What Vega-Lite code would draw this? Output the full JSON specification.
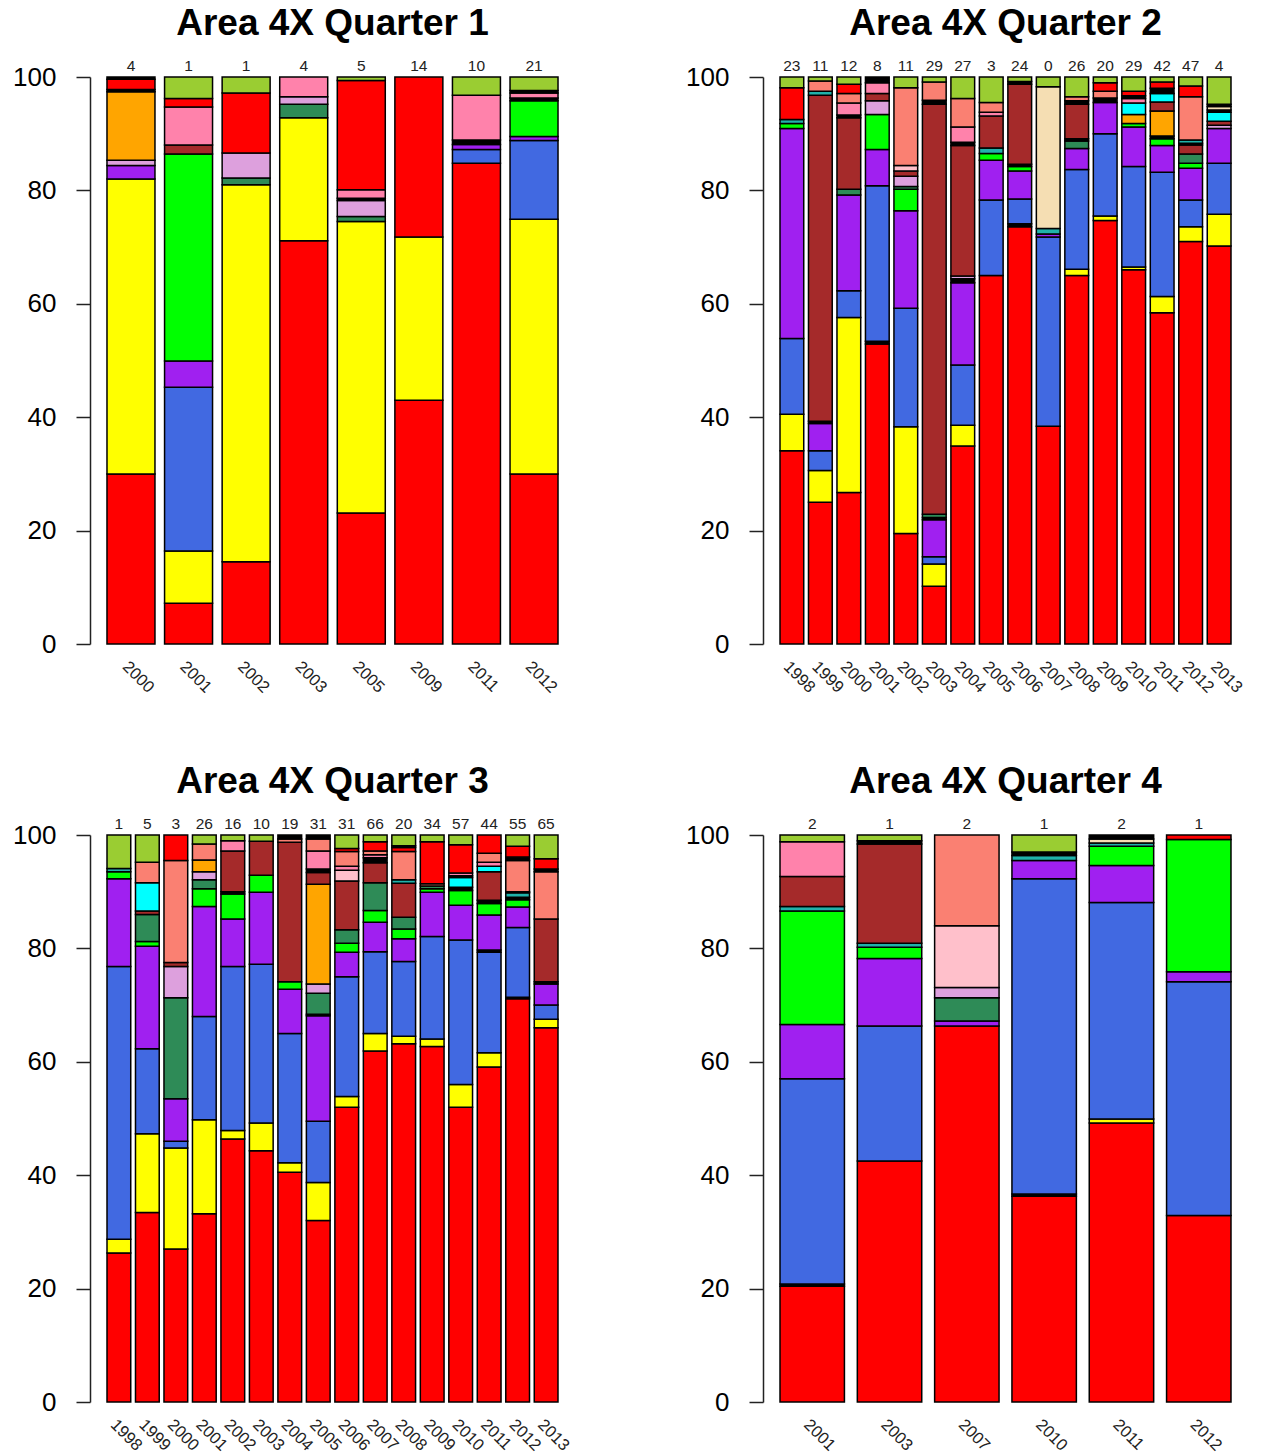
{
"$schema":"https://vega.github.io/schema/vega-lite/v6.json",
"background":"white",
"padding":{"left":12,"top":5,"right":5,"bottom":0},
"columns":2,
"spacing":{"row":67,"column":110},
"datasets":{
"segs":[
{"q":1,"year":"2000","k":1,"sp":"s01","pct":30},{"q":1,"year":"2000","k":2,"sp":"s02","pct":52},{"q":1,"year":"2000","k":3,"sp":"s04","pct":2.4},{"q":1,"year":"2000","k":4,"sp":"s11","pct":0.9},{"q":1,"year":"2000","k":5,"sp":"s10","pct":12.1},{"q":1,"year":"2000","k":6,"sp":"s16","pct":0.4},{"q":1,"year":"2000","k":7,"sp":"s18","pct":1.8},{"q":1,"year":"2000","k":8,"sp":"s16","pct":0.4},
{"q":1,"year":"2001","k":1,"sp":"s01","pct":7.2},{"q":1,"year":"2001","k":2,"sp":"s02","pct":9.2},{"q":1,"year":"2001","k":3,"sp":"s03","pct":28.9},{"q":1,"year":"2001","k":4,"sp":"s04","pct":4.6},{"q":1,"year":"2001","k":5,"sp":"s05","pct":36.5},{"q":1,"year":"2001","k":6,"sp":"s07","pct":1.6},{"q":1,"year":"2001","k":7,"sp":"s12","pct":6.7},{"q":1,"year":"2001","k":8,"sp":"s18","pct":1.5},{"q":1,"year":"2001","k":9,"sp":"s17","pct":3.8},
{"q":1,"year":"2002","k":1,"sp":"s01","pct":14.5},{"q":1,"year":"2002","k":2,"sp":"s02","pct":66.5},{"q":1,"year":"2002","k":3,"sp":"s06","pct":1.2},{"q":1,"year":"2002","k":4,"sp":"s11","pct":4.4},{"q":1,"year":"2002","k":5,"sp":"s18","pct":10.6},{"q":1,"year":"2002","k":6,"sp":"s17","pct":2.8},
{"q":1,"year":"2003","k":1,"sp":"s01","pct":71.1},{"q":1,"year":"2003","k":2,"sp":"s02","pct":21.7},{"q":1,"year":"2003","k":3,"sp":"s06","pct":2.4},{"q":1,"year":"2003","k":4,"sp":"s11","pct":1.3},{"q":1,"year":"2003","k":5,"sp":"s12","pct":3.5},
{"q":1,"year":"2005","k":1,"sp":"s01","pct":23.1},{"q":1,"year":"2005","k":2,"sp":"s02","pct":51.4},{"q":1,"year":"2005","k":3,"sp":"s06","pct":0.9},{"q":1,"year":"2005","k":4,"sp":"s11","pct":2.8},{"q":1,"year":"2005","k":5,"sp":"s16","pct":0.4},{"q":1,"year":"2005","k":6,"sp":"s12","pct":1.5},{"q":1,"year":"2005","k":7,"sp":"s18","pct":19.3},{"q":1,"year":"2005","k":8,"sp":"s17","pct":0.6},
{"q":1,"year":"2009","k":1,"sp":"s01","pct":43},{"q":1,"year":"2009","k":2,"sp":"s02","pct":28.8},{"q":1,"year":"2009","k":3,"sp":"s18","pct":28.2},
{"q":1,"year":"2011","k":1,"sp":"s01","pct":84.8},{"q":1,"year":"2011","k":2,"sp":"s03","pct":2.4},{"q":1,"year":"2011","k":3,"sp":"s04","pct":0.9},{"q":1,"year":"2011","k":4,"sp":"s16","pct":0.8},{"q":1,"year":"2011","k":5,"sp":"s12","pct":7.9},{"q":1,"year":"2011","k":6,"sp":"s17","pct":3.2},
{"q":1,"year":"2012","k":1,"sp":"s01","pct":30},{"q":1,"year":"2012","k":2,"sp":"s02","pct":44.9},{"q":1,"year":"2012","k":3,"sp":"s03","pct":13.9},{"q":1,"year":"2012","k":4,"sp":"s04","pct":0.7},{"q":1,"year":"2012","k":5,"sp":"s05","pct":6.3},{"q":1,"year":"2012","k":6,"sp":"s16","pct":0.5},{"q":1,"year":"2012","k":7,"sp":"s12","pct":0.9},{"q":1,"year":"2012","k":8,"sp":"s16","pct":0.4},{"q":1,"year":"2012","k":9,"sp":"s17","pct":2.4},

{"q":2,"year":"1998","k":1,"sp":"s01","pct":34.1},{"q":2,"year":"1998","k":2,"sp":"s02","pct":6.4},{"q":2,"year":"1998","k":3,"sp":"s03","pct":13.4},{"q":2,"year":"1998","k":4,"sp":"s04","pct":37.0},{"q":2,"year":"1998","k":5,"sp":"s05","pct":0.9},{"q":2,"year":"1998","k":6,"sp":"s08","pct":0.7},{"q":2,"year":"1998","k":7,"sp":"s18","pct":5.6},{"q":2,"year":"1998","k":8,"sp":"s17","pct":1.9},
{"q":2,"year":"1999","k":1,"sp":"s01","pct":25},{"q":2,"year":"1999","k":2,"sp":"s02","pct":5.6},{"q":2,"year":"1999","k":3,"sp":"s03","pct":3.5},{"q":2,"year":"1999","k":4,"sp":"s04","pct":4.8},{"q":2,"year":"1999","k":5,"sp":"s16","pct":0.4},{"q":2,"year":"1999","k":6,"sp":"s07","pct":57.5},{"q":2,"year":"1999","k":7,"sp":"s08","pct":0.7},{"q":2,"year":"1999","k":8,"sp":"s13","pct":1.8},{"q":2,"year":"1999","k":9,"sp":"s17","pct":0.7},
{"q":2,"year":"2000","k":1,"sp":"s01","pct":26.7},{"q":2,"year":"2000","k":2,"sp":"s02","pct":30.9},{"q":2,"year":"2000","k":3,"sp":"s03","pct":4.7},{"q":2,"year":"2000","k":4,"sp":"s04","pct":16.9},{"q":2,"year":"2000","k":5,"sp":"s06","pct":1.0},{"q":2,"year":"2000","k":6,"sp":"s07","pct":12.6},{"q":2,"year":"2000","k":7,"sp":"s16","pct":0.5},{"q":2,"year":"2000","k":8,"sp":"s12","pct":2.1},{"q":2,"year":"2000","k":9,"sp":"s13","pct":1.7},{"q":2,"year":"2000","k":10,"sp":"s18","pct":1.6},{"q":2,"year":"2000","k":11,"sp":"s17","pct":1.3},
{"q":2,"year":"2001","k":1,"sp":"s01","pct":52.9},{"q":2,"year":"2001","k":2,"sp":"s16","pct":0.5},{"q":2,"year":"2001","k":3,"sp":"s03","pct":27.4},{"q":2,"year":"2001","k":4,"sp":"s04","pct":6.4},{"q":2,"year":"2001","k":5,"sp":"s05","pct":6.2},{"q":2,"year":"2001","k":6,"sp":"s11","pct":2.4},{"q":2,"year":"2001","k":7,"sp":"s07","pct":1.3},{"q":2,"year":"2001","k":8,"sp":"s12","pct":1.9},{"q":2,"year":"2001","k":9,"sp":"s16","pct":1.0},
{"q":2,"year":"2002","k":1,"sp":"s01","pct":19.5},{"q":2,"year":"2002","k":2,"sp":"s02","pct":18.8},{"q":2,"year":"2002","k":3,"sp":"s03","pct":20.9},{"q":2,"year":"2002","k":4,"sp":"s04","pct":17.2},{"q":2,"year":"2002","k":5,"sp":"s05","pct":3.8},{"q":2,"year":"2002","k":6,"sp":"s06","pct":0.5},{"q":2,"year":"2002","k":7,"sp":"s11","pct":1.8},{"q":2,"year":"2002","k":8,"sp":"s07","pct":0.9},{"q":2,"year":"2002","k":9,"sp":"s14","pct":1.0},{"q":2,"year":"2002","k":10,"sp":"s13","pct":13.7},{"q":2,"year":"2002","k":11,"sp":"s17","pct":1.9},
{"q":2,"year":"2003","k":1,"sp":"s01","pct":10.2},{"q":2,"year":"2003","k":2,"sp":"s02","pct":3.9},{"q":2,"year":"2003","k":3,"sp":"s03","pct":1.3},{"q":2,"year":"2003","k":4,"sp":"s04","pct":6.5},{"q":2,"year":"2003","k":5,"sp":"s16","pct":0.4},{"q":2,"year":"2003","k":6,"sp":"s06","pct":0.6},{"q":2,"year":"2003","k":7,"sp":"s07","pct":72.3},{"q":2,"year":"2003","k":8,"sp":"s16","pct":0.7},{"q":2,"year":"2003","k":9,"sp":"s13","pct":3.2},{"q":2,"year":"2003","k":10,"sp":"s17","pct":0.9},
{"q":2,"year":"2004","k":1,"sp":"s01","pct":34.9},{"q":2,"year":"2004","k":2,"sp":"s02","pct":3.7},{"q":2,"year":"2004","k":3,"sp":"s03","pct":10.6},{"q":2,"year":"2004","k":4,"sp":"s04","pct":14.5},{"q":2,"year":"2004","k":5,"sp":"s16","pct":0.7},{"q":2,"year":"2004","k":6,"sp":"s11","pct":0.5},{"q":2,"year":"2004","k":7,"sp":"s07","pct":23.0},{"q":2,"year":"2004","k":8,"sp":"s16","pct":0.6},{"q":2,"year":"2004","k":9,"sp":"s12","pct":2.7},{"q":2,"year":"2004","k":10,"sp":"s13","pct":5.0},{"q":2,"year":"2004","k":11,"sp":"s17","pct":3.8},
{"q":2,"year":"2005","k":1,"sp":"s01","pct":65},{"q":2,"year":"2005","k":2,"sp":"s03","pct":13.3},{"q":2,"year":"2005","k":3,"sp":"s04","pct":7.0},{"q":2,"year":"2005","k":4,"sp":"s05","pct":1.2},{"q":2,"year":"2005","k":5,"sp":"s08","pct":1.0},{"q":2,"year":"2005","k":6,"sp":"s07","pct":5.6},{"q":2,"year":"2005","k":7,"sp":"s12","pct":0.7},{"q":2,"year":"2005","k":8,"sp":"s13","pct":1.7},{"q":2,"year":"2005","k":9,"sp":"s17","pct":4.5},
{"q":2,"year":"2006","k":1,"sp":"s01","pct":73.6},{"q":2,"year":"2006","k":2,"sp":"s16","pct":0.5},{"q":2,"year":"2006","k":3,"sp":"s03","pct":4.4},{"q":2,"year":"2006","k":4,"sp":"s04","pct":4.9},{"q":2,"year":"2006","k":5,"sp":"s05","pct":0.8},{"q":2,"year":"2006","k":6,"sp":"s16","pct":0.4},{"q":2,"year":"2006","k":7,"sp":"s07","pct":14.1},{"q":2,"year":"2006","k":8,"sp":"s16","pct":0.5},{"q":2,"year":"2006","k":9,"sp":"s17","pct":0.8},
{"q":2,"year":"2007","k":1,"sp":"s01","pct":38.4},{"q":2,"year":"2007","k":2,"sp":"s03","pct":33.4},{"q":2,"year":"2007","k":3,"sp":"s04","pct":0.5},{"q":2,"year":"2007","k":4,"sp":"s08","pct":1.0},{"q":2,"year":"2007","k":5,"sp":"s15","pct":25.0},{"q":2,"year":"2007","k":6,"sp":"s17","pct":1.7},
{"q":2,"year":"2008","k":1,"sp":"s01","pct":65},{"q":2,"year":"2008","k":2,"sp":"s02","pct":1.1},{"q":2,"year":"2008","k":3,"sp":"s03","pct":17.6},{"q":2,"year":"2008","k":4,"sp":"s04","pct":3.7},{"q":2,"year":"2008","k":5,"sp":"s06","pct":1.3},{"q":2,"year":"2008","k":6,"sp":"s16","pct":0.4},{"q":2,"year":"2008","k":7,"sp":"s07","pct":6.1},{"q":2,"year":"2008","k":8,"sp":"s16","pct":0.6},{"q":2,"year":"2008","k":9,"sp":"s13","pct":0.7},{"q":2,"year":"2008","k":10,"sp":"s17","pct":3.5},
{"q":2,"year":"2009","k":1,"sp":"s01","pct":74.7},{"q":2,"year":"2009","k":2,"sp":"s02","pct":0.8},{"q":2,"year":"2009","k":3,"sp":"s03","pct":14.5},{"q":2,"year":"2009","k":4,"sp":"s04","pct":5.5},{"q":2,"year":"2009","k":5,"sp":"s16","pct":0.8},{"q":2,"year":"2009","k":6,"sp":"s13","pct":1.2},{"q":2,"year":"2009","k":7,"sp":"s18","pct":1.5},{"q":2,"year":"2009","k":8,"sp":"s17","pct":1.0},
{"q":2,"year":"2010","k":1,"sp":"s01","pct":66},{"q":2,"year":"2010","k":2,"sp":"s02","pct":0.5},{"q":2,"year":"2010","k":3,"sp":"s03","pct":17.7},{"q":2,"year":"2010","k":4,"sp":"s04","pct":7.0},{"q":2,"year":"2010","k":5,"sp":"s05","pct":0.6},{"q":2,"year":"2010","k":6,"sp":"s10","pct":1.6},{"q":2,"year":"2010","k":7,"sp":"s09","pct":2.0},{"q":2,"year":"2010","k":8,"sp":"s12","pct":0.8},{"q":2,"year":"2010","k":9,"sp":"s16","pct":0.5},{"q":2,"year":"2010","k":10,"sp":"s18","pct":0.8},{"q":2,"year":"2010","k":11,"sp":"s17","pct":2.5},
{"q":2,"year":"2011","k":1,"sp":"s01","pct":58.4},{"q":2,"year":"2011","k":2,"sp":"s02","pct":2.9},{"q":2,"year":"2011","k":3,"sp":"s03","pct":21.9},{"q":2,"year":"2011","k":4,"sp":"s04","pct":4.7},{"q":2,"year":"2011","k":5,"sp":"s05","pct":1.2},{"q":2,"year":"2011","k":6,"sp":"s16","pct":0.5},{"q":2,"year":"2011","k":7,"sp":"s10","pct":4.4},{"q":2,"year":"2011","k":8,"sp":"s07","pct":1.6},{"q":2,"year":"2011","k":9,"sp":"s09","pct":1.5},{"q":2,"year":"2011","k":10,"sp":"s16","pct":0.9},{"q":2,"year":"2011","k":11,"sp":"s18","pct":1.1},{"q":2,"year":"2011","k":12,"sp":"s17","pct":0.9},
{"q":2,"year":"2012","k":1,"sp":"s01","pct":71},{"q":2,"year":"2012","k":2,"sp":"s02","pct":2.6},{"q":2,"year":"2012","k":3,"sp":"s03","pct":4.7},{"q":2,"year":"2012","k":4,"sp":"s04","pct":5.6},{"q":2,"year":"2012","k":5,"sp":"s05","pct":0.9},{"q":2,"year":"2012","k":6,"sp":"s06","pct":1.6},{"q":2,"year":"2012","k":7,"sp":"s07","pct":1.6},{"q":2,"year":"2012","k":8,"sp":"s16","pct":0.3},{"q":2,"year":"2012","k":9,"sp":"s08","pct":0.6},{"q":2,"year":"2012","k":10,"sp":"s13","pct":7.6},{"q":2,"year":"2012","k":11,"sp":"s18","pct":1.9},{"q":2,"year":"2012","k":12,"sp":"s17","pct":1.6},
{"q":2,"year":"2013","k":1,"sp":"s01","pct":70.2},{"q":2,"year":"2013","k":2,"sp":"s02","pct":5.6},{"q":2,"year":"2013","k":3,"sp":"s03","pct":9.0},{"q":2,"year":"2013","k":4,"sp":"s04","pct":6.1},{"q":2,"year":"2013","k":5,"sp":"s11","pct":0.6},{"q":2,"year":"2013","k":6,"sp":"s07","pct":0.7},{"q":2,"year":"2013","k":7,"sp":"s09","pct":1.6},{"q":2,"year":"2013","k":8,"sp":"s16","pct":0.4},{"q":2,"year":"2013","k":9,"sp":"s15","pct":0.6},{"q":2,"year":"2013","k":10,"sp":"s16","pct":0.4},{"q":2,"year":"2013","k":11,"sp":"s17","pct":4.8},

{"q":3,"year":"1998","k":1,"sp":"s01","pct":26.3},{"q":3,"year":"1998","k":2,"sp":"s02","pct":2.4},{"q":3,"year":"1998","k":3,"sp":"s03","pct":48.1},{"q":3,"year":"1998","k":4,"sp":"s04","pct":15.5},{"q":3,"year":"1998","k":5,"sp":"s05","pct":1.2},{"q":3,"year":"1998","k":6,"sp":"s08","pct":0.6},{"q":3,"year":"1998","k":7,"sp":"s17","pct":5.9},
{"q":3,"year":"1999","k":1,"sp":"s01","pct":33.4},{"q":3,"year":"1999","k":2,"sp":"s02","pct":13.9},{"q":3,"year":"1999","k":3,"sp":"s03","pct":15.0},{"q":3,"year":"1999","k":4,"sp":"s04","pct":18.1},{"q":3,"year":"1999","k":5,"sp":"s05","pct":0.8},{"q":3,"year":"1999","k":6,"sp":"s06","pct":4.8},{"q":3,"year":"1999","k":7,"sp":"s07","pct":0.6},{"q":3,"year":"1999","k":8,"sp":"s09","pct":5.0},{"q":3,"year":"1999","k":9,"sp":"s13","pct":3.6},{"q":3,"year":"1999","k":10,"sp":"s17","pct":4.8},
{"q":3,"year":"2000","k":1,"sp":"s01","pct":27},{"q":3,"year":"2000","k":2,"sp":"s02","pct":17.8},{"q":3,"year":"2000","k":3,"sp":"s03","pct":1.2},{"q":3,"year":"2000","k":4,"sp":"s04","pct":7.5},{"q":3,"year":"2000","k":5,"sp":"s06","pct":17.8},{"q":3,"year":"2000","k":6,"sp":"s11","pct":5.5},{"q":3,"year":"2000","k":7,"sp":"s07","pct":0.7},{"q":3,"year":"2000","k":8,"sp":"s13","pct":18.0},{"q":3,"year":"2000","k":9,"sp":"s18","pct":4.5},
{"q":3,"year":"2001","k":1,"sp":"s01","pct":33.2},{"q":3,"year":"2001","k":2,"sp":"s02","pct":16.6},{"q":3,"year":"2001","k":3,"sp":"s03","pct":18.2},{"q":3,"year":"2001","k":4,"sp":"s04","pct":19.4},{"q":3,"year":"2001","k":5,"sp":"s05","pct":3.1},{"q":3,"year":"2001","k":6,"sp":"s06","pct":1.6},{"q":3,"year":"2001","k":7,"sp":"s11","pct":1.4},{"q":3,"year":"2001","k":8,"sp":"s10","pct":2.1},{"q":3,"year":"2001","k":9,"sp":"s13","pct":2.8},{"q":3,"year":"2001","k":10,"sp":"s17","pct":1.6},
{"q":3,"year":"2002","k":1,"sp":"s01","pct":46.4},{"q":3,"year":"2002","k":2,"sp":"s02","pct":1.5},{"q":3,"year":"2002","k":3,"sp":"s03","pct":28.9},{"q":3,"year":"2002","k":4,"sp":"s04","pct":8.4},{"q":3,"year":"2002","k":5,"sp":"s05","pct":4.4},{"q":3,"year":"2002","k":6,"sp":"s16","pct":0.4},{"q":3,"year":"2002","k":7,"sp":"s07","pct":7.2},{"q":3,"year":"2002","k":8,"sp":"s12","pct":1.8},{"q":3,"year":"2002","k":9,"sp":"s17","pct":1.0},
{"q":3,"year":"2003","k":1,"sp":"s01","pct":44.3},{"q":3,"year":"2003","k":2,"sp":"s02","pct":4.9},{"q":3,"year":"2003","k":3,"sp":"s03","pct":28.0},{"q":3,"year":"2003","k":4,"sp":"s04","pct":12.7},{"q":3,"year":"2003","k":5,"sp":"s05","pct":3.0},{"q":3,"year":"2003","k":6,"sp":"s07","pct":6.0},{"q":3,"year":"2003","k":7,"sp":"s17","pct":1.1},
{"q":3,"year":"2004","k":1,"sp":"s01","pct":40.5},{"q":3,"year":"2004","k":2,"sp":"s02","pct":1.7},{"q":3,"year":"2004","k":3,"sp":"s03","pct":22.8},{"q":3,"year":"2004","k":4,"sp":"s04","pct":7.8},{"q":3,"year":"2004","k":5,"sp":"s05","pct":1.3},{"q":3,"year":"2004","k":6,"sp":"s07","pct":24.6},{"q":3,"year":"2004","k":7,"sp":"s13","pct":0.6},{"q":3,"year":"2004","k":8,"sp":"s16","pct":0.7},
{"q":3,"year":"2005","k":1,"sp":"s01","pct":32},{"q":3,"year":"2005","k":2,"sp":"s02","pct":6.7},{"q":3,"year":"2005","k":3,"sp":"s03","pct":10.8},{"q":3,"year":"2005","k":4,"sp":"s04","pct":18.6},{"q":3,"year":"2005","k":5,"sp":"s16","pct":0.3},{"q":3,"year":"2005","k":6,"sp":"s06","pct":3.7},{"q":3,"year":"2005","k":7,"sp":"s11","pct":1.6},{"q":3,"year":"2005","k":8,"sp":"s10","pct":17.6},{"q":3,"year":"2005","k":9,"sp":"s07","pct":2.1},{"q":3,"year":"2005","k":10,"sp":"s16","pct":0.6},{"q":3,"year":"2005","k":11,"sp":"s12","pct":3.2},{"q":3,"year":"2005","k":12,"sp":"s13","pct":2.1},{"q":3,"year":"2005","k":13,"sp":"s16","pct":0.7},
{"q":3,"year":"2006","k":1,"sp":"s01","pct":52},{"q":3,"year":"2006","k":2,"sp":"s02","pct":1.9},{"q":3,"year":"2006","k":3,"sp":"s03","pct":21.1},{"q":3,"year":"2006","k":4,"sp":"s04","pct":4.3},{"q":3,"year":"2006","k":5,"sp":"s05","pct":1.6},{"q":3,"year":"2006","k":6,"sp":"s06","pct":2.4},{"q":3,"year":"2006","k":7,"sp":"s07","pct":8.6},{"q":3,"year":"2006","k":8,"sp":"s14","pct":1.9},{"q":3,"year":"2006","k":9,"sp":"s12","pct":0.7},{"q":3,"year":"2006","k":10,"sp":"s13","pct":2.6},{"q":3,"year":"2006","k":11,"sp":"s18","pct":0.5},{"q":3,"year":"2006","k":12,"sp":"s17","pct":2.4},
{"q":3,"year":"2007","k":1,"sp":"s01","pct":61.9},{"q":3,"year":"2007","k":2,"sp":"s02","pct":3.1},{"q":3,"year":"2007","k":3,"sp":"s03","pct":14.4},{"q":3,"year":"2007","k":4,"sp":"s04","pct":5.2},{"q":3,"year":"2007","k":5,"sp":"s05","pct":2.1},{"q":3,"year":"2007","k":6,"sp":"s06","pct":4.9},{"q":3,"year":"2007","k":7,"sp":"s07","pct":3.5},{"q":3,"year":"2007","k":8,"sp":"s16","pct":0.9},{"q":3,"year":"2007","k":9,"sp":"s12","pct":0.5},{"q":3,"year":"2007","k":10,"sp":"s13","pct":0.7},{"q":3,"year":"2007","k":11,"sp":"s18","pct":1.6},{"q":3,"year":"2007","k":12,"sp":"s17","pct":1.2},
{"q":3,"year":"2008","k":1,"sp":"s01","pct":63.2},{"q":3,"year":"2008","k":2,"sp":"s02","pct":1.3},{"q":3,"year":"2008","k":3,"sp":"s03","pct":13.2},{"q":3,"year":"2008","k":4,"sp":"s04","pct":4.0},{"q":3,"year":"2008","k":5,"sp":"s05","pct":1.7},{"q":3,"year":"2008","k":6,"sp":"s06","pct":2.1},{"q":3,"year":"2008","k":7,"sp":"s07","pct":6.0},{"q":3,"year":"2008","k":8,"sp":"s08","pct":0.6},{"q":3,"year":"2008","k":9,"sp":"s13","pct":5.0},{"q":3,"year":"2008","k":10,"sp":"s18","pct":0.7},{"q":3,"year":"2008","k":11,"sp":"s16","pct":0.3},{"q":3,"year":"2008","k":12,"sp":"s17","pct":1.9},
{"q":3,"year":"2009","k":1,"sp":"s01","pct":62.7},{"q":3,"year":"2009","k":2,"sp":"s02","pct":1.3},{"q":3,"year":"2009","k":3,"sp":"s03","pct":18.1},{"q":3,"year":"2009","k":4,"sp":"s04","pct":7.8},{"q":3,"year":"2009","k":5,"sp":"s05","pct":0.6},{"q":3,"year":"2009","k":6,"sp":"s06","pct":0.5},{"q":3,"year":"2009","k":7,"sp":"s13","pct":0.4},{"q":3,"year":"2009","k":8,"sp":"s18","pct":7.4},{"q":3,"year":"2009","k":9,"sp":"s17","pct":1.2},
{"q":3,"year":"2010","k":1,"sp":"s01","pct":52},{"q":3,"year":"2010","k":2,"sp":"s02","pct":4.0},{"q":3,"year":"2010","k":3,"sp":"s03","pct":25.5},{"q":3,"year":"2010","k":4,"sp":"s04","pct":6.1},{"q":3,"year":"2010","k":5,"sp":"s05","pct":2.6},{"q":3,"year":"2010","k":6,"sp":"s16","pct":0.6},{"q":3,"year":"2010","k":7,"sp":"s09","pct":1.7},{"q":3,"year":"2010","k":8,"sp":"s16","pct":0.3},{"q":3,"year":"2010","k":9,"sp":"s12","pct":0.5},{"q":3,"year":"2010","k":10,"sp":"s18","pct":5.0},{"q":3,"year":"2010","k":11,"sp":"s17","pct":1.7},
{"q":3,"year":"2011","k":1,"sp":"s01","pct":59.1},{"q":3,"year":"2011","k":2,"sp":"s02","pct":2.5},{"q":3,"year":"2011","k":3,"sp":"s03","pct":17.7},{"q":3,"year":"2011","k":4,"sp":"s16","pct":0.4},{"q":3,"year":"2011","k":5,"sp":"s04","pct":6.2},{"q":3,"year":"2011","k":6,"sp":"s05","pct":2.0},{"q":3,"year":"2011","k":7,"sp":"s16","pct":0.6},{"q":3,"year":"2011","k":8,"sp":"s07","pct":5.0},{"q":3,"year":"2011","k":9,"sp":"s09","pct":1.0},{"q":3,"year":"2011","k":10,"sp":"s12","pct":0.7},{"q":3,"year":"2011","k":11,"sp":"s13","pct":1.6},{"q":3,"year":"2011","k":12,"sp":"s18","pct":3.2},
{"q":3,"year":"2012","k":1,"sp":"s01","pct":71.1},{"q":3,"year":"2012","k":2,"sp":"s16","pct":0.3},{"q":3,"year":"2012","k":3,"sp":"s03","pct":12.3},{"q":3,"year":"2012","k":4,"sp":"s04","pct":3.6},{"q":3,"year":"2012","k":5,"sp":"s05","pct":1.3},{"q":3,"year":"2012","k":6,"sp":"s16","pct":0.4},{"q":3,"year":"2012","k":7,"sp":"s08","pct":0.8},{"q":3,"year":"2012","k":8,"sp":"s16","pct":0.2},{"q":3,"year":"2012","k":9,"sp":"s13","pct":5.5},{"q":3,"year":"2012","k":10,"sp":"s16","pct":0.6},{"q":3,"year":"2012","k":11,"sp":"s18","pct":1.9},{"q":3,"year":"2012","k":12,"sp":"s17","pct":2.0},
{"q":3,"year":"2013","k":1,"sp":"s01","pct":66},{"q":3,"year":"2013","k":2,"sp":"s02","pct":1.5},{"q":3,"year":"2013","k":3,"sp":"s03","pct":2.5},{"q":3,"year":"2013","k":4,"sp":"s04","pct":3.7},{"q":3,"year":"2013","k":5,"sp":"s16","pct":0.4},{"q":3,"year":"2013","k":6,"sp":"s07","pct":11.1},{"q":3,"year":"2013","k":7,"sp":"s13","pct":8.3},{"q":3,"year":"2013","k":8,"sp":"s16","pct":0.5},{"q":3,"year":"2013","k":9,"sp":"s18","pct":1.8},{"q":3,"year":"2013","k":10,"sp":"s17","pct":4.2},

{"q":4,"year":"2001","k":1,"sp":"s01","pct":20.4},{"q":4,"year":"2001","k":2,"sp":"s16","pct":0.4},{"q":4,"year":"2001","k":3,"sp":"s03","pct":36.2},{"q":4,"year":"2001","k":4,"sp":"s04","pct":9.6},{"q":4,"year":"2001","k":5,"sp":"s05","pct":20.0},{"q":4,"year":"2001","k":6,"sp":"s08","pct":0.8},{"q":4,"year":"2001","k":7,"sp":"s07","pct":5.3},{"q":4,"year":"2001","k":8,"sp":"s12","pct":6.1},{"q":4,"year":"2001","k":9,"sp":"s17","pct":1.2},
{"q":4,"year":"2003","k":1,"sp":"s01","pct":42.5},{"q":4,"year":"2003","k":2,"sp":"s03","pct":23.8},{"q":4,"year":"2003","k":3,"sp":"s04","pct":11.9},{"q":4,"year":"2003","k":4,"sp":"s05","pct":2.0},{"q":4,"year":"2003","k":5,"sp":"s08","pct":0.7},{"q":4,"year":"2003","k":6,"sp":"s07","pct":17.5},{"q":4,"year":"2003","k":7,"sp":"s16","pct":0.6},{"q":4,"year":"2003","k":8,"sp":"s17","pct":1.0},
{"q":4,"year":"2007","k":1,"sp":"s01","pct":66.3},{"q":4,"year":"2007","k":2,"sp":"s04","pct":0.9},{"q":4,"year":"2007","k":3,"sp":"s06","pct":4.1},{"q":4,"year":"2007","k":4,"sp":"s11","pct":1.8},{"q":4,"year":"2007","k":5,"sp":"s14","pct":10.9},{"q":4,"year":"2007","k":6,"sp":"s13","pct":16.0},
{"q":4,"year":"2010","k":1,"sp":"s01","pct":36.3},{"q":4,"year":"2010","k":2,"sp":"s16","pct":0.4},{"q":4,"year":"2010","k":3,"sp":"s03","pct":55.6},{"q":4,"year":"2010","k":4,"sp":"s04","pct":3.2},{"q":4,"year":"2010","k":5,"sp":"s08","pct":0.9},{"q":4,"year":"2010","k":6,"sp":"s16","pct":0.6},{"q":4,"year":"2010","k":7,"sp":"s17","pct":3.0},
{"q":4,"year":"2011","k":1,"sp":"s01","pct":49.2},{"q":4,"year":"2011","k":2,"sp":"s02","pct":0.7},{"q":4,"year":"2011","k":3,"sp":"s03","pct":38.2},{"q":4,"year":"2011","k":4,"sp":"s04","pct":6.5},{"q":4,"year":"2011","k":5,"sp":"s05","pct":3.4},{"q":4,"year":"2011","k":6,"sp":"s08","pct":0.6},{"q":4,"year":"2011","k":7,"sp":"s15","pct":0.7},{"q":4,"year":"2011","k":8,"sp":"s16","pct":0.7},
{"q":4,"year":"2012","k":1,"sp":"s01","pct":32.9},{"q":4,"year":"2012","k":2,"sp":"s03","pct":41.2},{"q":4,"year":"2012","k":3,"sp":"s04","pct":1.8},{"q":4,"year":"2012","k":4,"sp":"s05","pct":23.3},{"q":4,"year":"2012","k":5,"sp":"s18","pct":0.8}
],
"counts":[
{"q":1,"year":"2000","n":4},{"q":1,"year":"2001","n":1},{"q":1,"year":"2002","n":1},{"q":1,"year":"2003","n":4},{"q":1,"year":"2005","n":5},{"q":1,"year":"2009","n":14},{"q":1,"year":"2011","n":10},{"q":1,"year":"2012","n":21},
{"q":2,"year":"1998","n":23},{"q":2,"year":"1999","n":11},{"q":2,"year":"2000","n":12},{"q":2,"year":"2001","n":8},{"q":2,"year":"2002","n":11},{"q":2,"year":"2003","n":29},{"q":2,"year":"2004","n":27},{"q":2,"year":"2005","n":3},{"q":2,"year":"2006","n":24},{"q":2,"year":"2007","n":0},{"q":2,"year":"2008","n":26},{"q":2,"year":"2009","n":20},{"q":2,"year":"2010","n":29},{"q":2,"year":"2011","n":42},{"q":2,"year":"2012","n":47},{"q":2,"year":"2013","n":4},
{"q":3,"year":"1998","n":1},{"q":3,"year":"1999","n":5},{"q":3,"year":"2000","n":3},{"q":3,"year":"2001","n":26},{"q":3,"year":"2002","n":16},{"q":3,"year":"2003","n":10},{"q":3,"year":"2004","n":19},{"q":3,"year":"2005","n":31},{"q":3,"year":"2006","n":31},{"q":3,"year":"2007","n":66},{"q":3,"year":"2008","n":20},{"q":3,"year":"2009","n":34},{"q":3,"year":"2010","n":57},{"q":3,"year":"2011","n":44},{"q":3,"year":"2012","n":55},{"q":3,"year":"2013","n":65},
{"q":4,"year":"2001","n":2},{"q":4,"year":"2003","n":1},{"q":4,"year":"2007","n":2},{"q":4,"year":"2010","n":1},{"q":4,"year":"2011","n":2},{"q":4,"year":"2012","n":1}
]
},
"concat":[
{"width":485,"height":567,"title":"Area 4X Quarter 1",
 "layer":[
  {"data":{"name":"segs"},"transform":[{"filter":"datum.q == 1"}],"mark":{"type":"bar","stroke":"black","strokeWidth":1.5},
   "encoding":{"x":{"field":"year","type":"ordinal","scale":{"paddingInner":0.1667,"paddingOuter":0.295},"axis":{"title":null}},
   "y":{"field":"pct","type":"quantitative","stack":"zero","scale":{"domain":[0,100],"nice":false},"axis":{"title":null,"values":[0,20,40,60,80,100]}},
   "color":{"field":"sp","type":"nominal","scale":{"domain":["s01","s02","s03","s04","s05","s06","s07","s08","s09","s10","s11","s12","s13","s14","s15","s16","s17","s18"],"range":["#FF0000","#FFFF00","#4169E1","#A020F0","#00FF00","#2E8B57","#A52A2A","#20B2AA","#00FFFF","#FFA500","#DDA0DD","#FF82AB","#FA8072","#FFC0CB","#F5DEB3","#000000","#9ACD32","#FF0000"]},"legend":null},
   "order":{"field":"k","type":"quantitative"}}},
  {"data":{"name":"counts"},"transform":[{"filter":"datum.q == 1"}],"mark":{"type":"text","baseline":"bottom","dy":-3,"fontSize":15.5,"color":"#222"},
   "encoding":{"x":{"field":"year","type":"ordinal"},"y":{"datum":100},"text":{"field":"n","type":"nominal"}}}
 ]},
{"width":485,"height":567,"title":"Area 4X Quarter 2",
 "layer":[
  {"data":{"name":"segs"},"transform":[{"filter":"datum.q == 2"}],"mark":{"type":"bar","stroke":"black","strokeWidth":1.5},
   "encoding":{"x":{"field":"year","type":"ordinal","scale":{"paddingInner":0.1667,"paddingOuter":0.597},"axis":{"title":null}},
   "y":{"field":"pct","type":"quantitative","stack":"zero","scale":{"domain":[0,100],"nice":false},"axis":{"title":null,"values":[0,20,40,60,80,100]}},
   "color":{"field":"sp","type":"nominal","scale":{"domain":["s01","s02","s03","s04","s05","s06","s07","s08","s09","s10","s11","s12","s13","s14","s15","s16","s17","s18"],"range":["#FF0000","#FFFF00","#4169E1","#A020F0","#00FF00","#2E8B57","#A52A2A","#20B2AA","#00FFFF","#FFA500","#DDA0DD","#FF82AB","#FA8072","#FFC0CB","#F5DEB3","#000000","#9ACD32","#FF0000"]},"legend":null},
   "order":{"field":"k","type":"quantitative"}}},
  {"data":{"name":"counts"},"transform":[{"filter":"datum.q == 2"}],"mark":{"type":"text","baseline":"bottom","dy":-3,"fontSize":15.5,"color":"#222"},
   "encoding":{"x":{"field":"year","type":"ordinal"},"y":{"datum":100},"text":{"field":"n","type":"nominal"}}}
 ]},
{"width":485,"height":567,"title":"Area 4X Quarter 3",
 "layer":[
  {"data":{"name":"segs"},"transform":[{"filter":"datum.q == 3"}],"mark":{"type":"bar","stroke":"black","strokeWidth":1.5},
   "encoding":{"x":{"field":"year","type":"ordinal","scale":{"paddingInner":0.1667,"paddingOuter":0.597},"axis":{"title":null}},
   "y":{"field":"pct","type":"quantitative","stack":"zero","scale":{"domain":[0,100],"nice":false},"axis":{"title":null,"values":[0,20,40,60,80,100]}},
   "color":{"field":"sp","type":"nominal","scale":{"domain":["s01","s02","s03","s04","s05","s06","s07","s08","s09","s10","s11","s12","s13","s14","s15","s16","s17","s18"],"range":["#FF0000","#FFFF00","#4169E1","#A020F0","#00FF00","#2E8B57","#A52A2A","#20B2AA","#00FFFF","#FFA500","#DDA0DD","#FF82AB","#FA8072","#FFC0CB","#F5DEB3","#000000","#9ACD32","#FF0000"]},"legend":null},
   "order":{"field":"k","type":"quantitative"}}},
  {"data":{"name":"counts"},"transform":[{"filter":"datum.q == 3"}],"mark":{"type":"text","baseline":"bottom","dy":-3,"fontSize":15.5,"color":"#222"},
   "encoding":{"x":{"field":"year","type":"ordinal"},"y":{"datum":100},"text":{"field":"n","type":"nominal"}}}
 ]},
{"width":485,"height":567,"title":"Area 4X Quarter 4",
 "layer":[
  {"data":{"name":"segs"},"transform":[{"filter":"datum.q == 4"}],"mark":{"type":"bar","stroke":"black","strokeWidth":1.5},
   "encoding":{"x":{"field":"year","type":"ordinal","scale":{"paddingInner":0.1667,"paddingOuter":0.22},"axis":{"title":null}},
   "y":{"field":"pct","type":"quantitative","stack":"zero","scale":{"domain":[0,100],"nice":false},"axis":{"title":null,"values":[0,20,40,60,80,100]}},
   "color":{"field":"sp","type":"nominal","scale":{"domain":["s01","s02","s03","s04","s05","s06","s07","s08","s09","s10","s11","s12","s13","s14","s15","s16","s17","s18"],"range":["#FF0000","#FFFF00","#4169E1","#A020F0","#00FF00","#2E8B57","#A52A2A","#20B2AA","#00FFFF","#FFA500","#DDA0DD","#FF82AB","#FA8072","#FFC0CB","#F5DEB3","#000000","#9ACD32","#FF0000"]},"legend":null},
   "order":{"field":"k","type":"quantitative"}}},
  {"data":{"name":"counts"},"transform":[{"filter":"datum.q == 4"}],"mark":{"type":"text","baseline":"bottom","dy":-3,"fontSize":15.5,"color":"#222"},
   "encoding":{"x":{"field":"year","type":"ordinal"},"y":{"datum":100},"text":{"field":"n","type":"nominal"}}}
 ]}
],
"config":{
 "view":{"stroke":null},
 "font":"Liberation Sans",
 "title":{"fontSize":37,"fontWeight":"bold","font":"Liberation Sans","color":"black","anchor":"middle","offset":16},
 "text":{"font":"Liberation Sans"},
 "axisY":{"domainColor":"#222","domainWidth":1.5,"tickColor":"#222","tickWidth":1.5,"tickSize":14,"labelFontSize":26,"labelColor":"black","labelPadding":20,"grid":false,"labelFont":"Liberation Sans"},
 "axisX":{"domain":false,"ticks":false,"labelAngle":45,"labelFontSize":16.5,"labelColor":"#222","labelPadding":14,"grid":false,"labelFont":"Liberation Sans"}
}
}
